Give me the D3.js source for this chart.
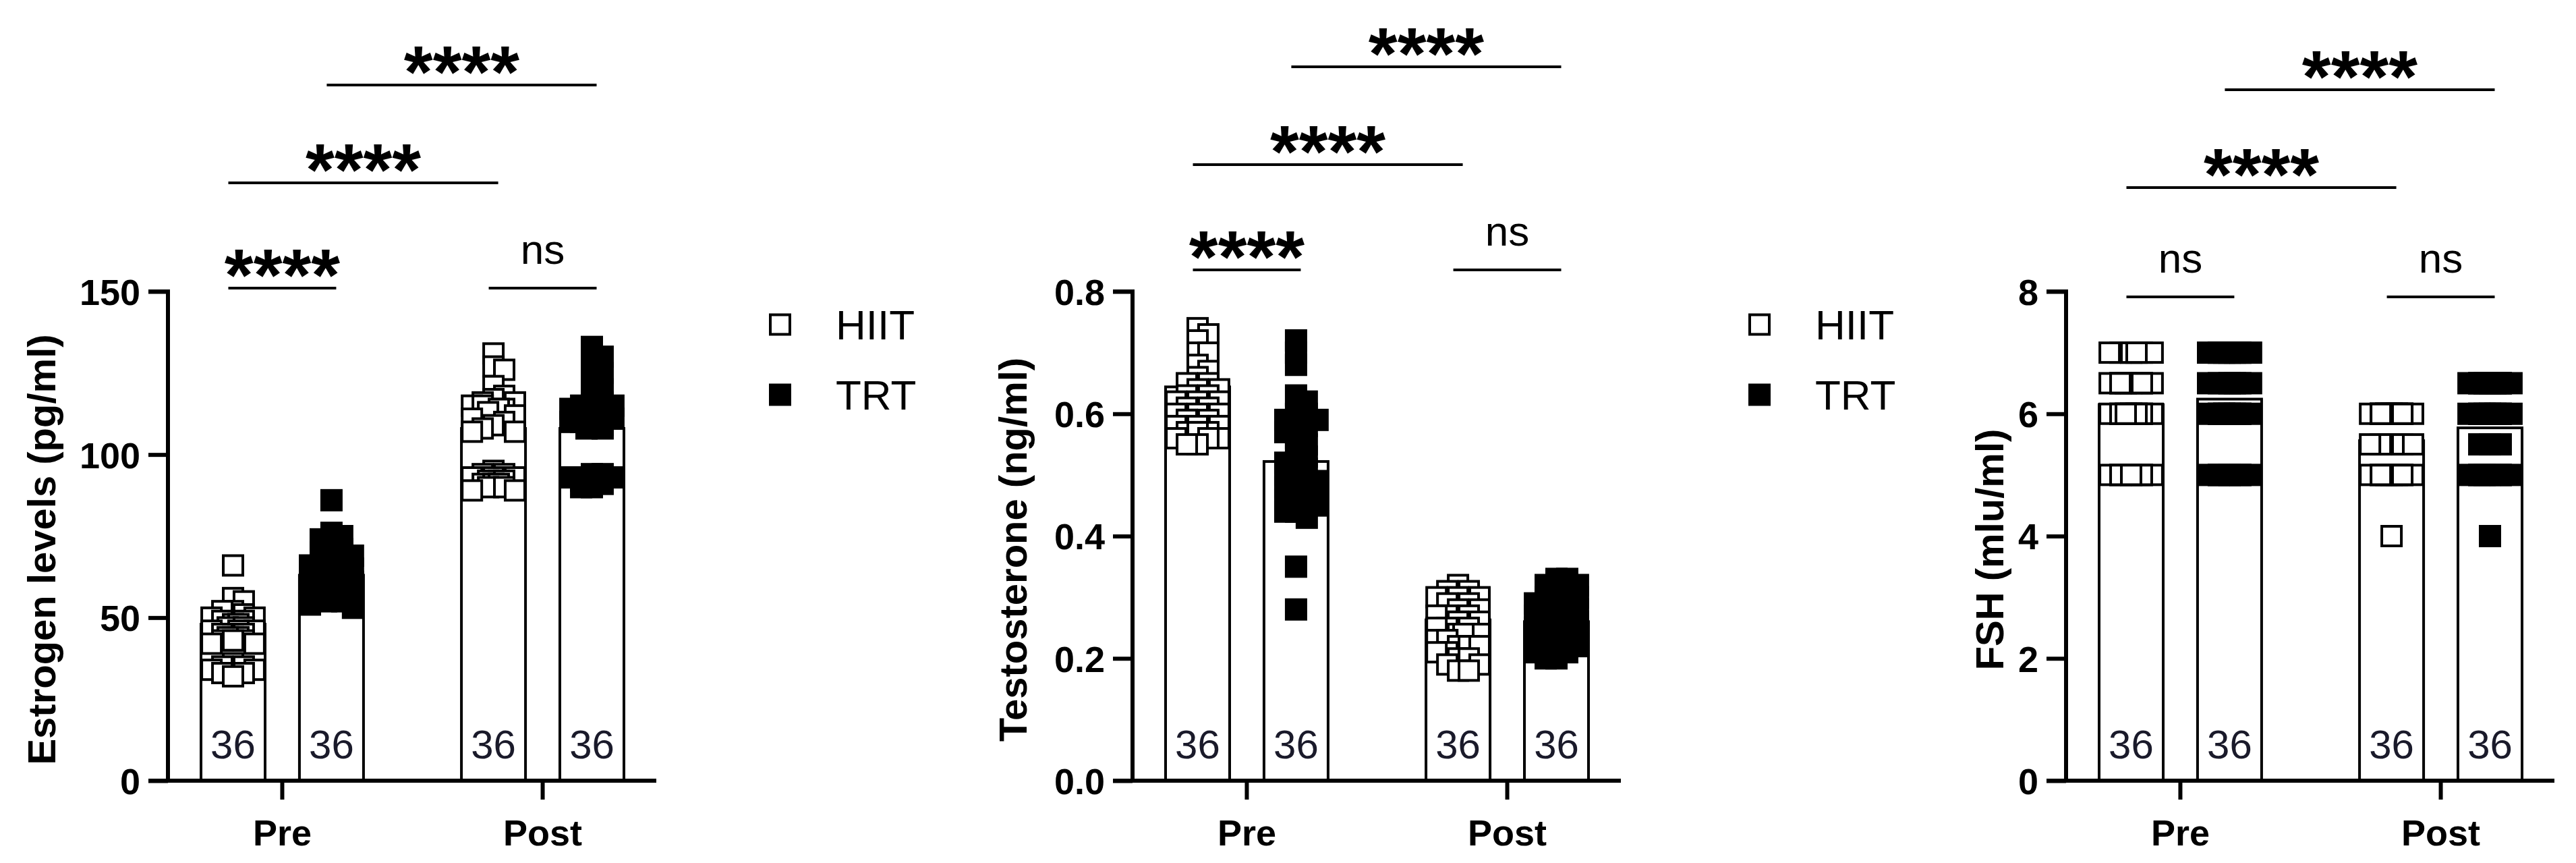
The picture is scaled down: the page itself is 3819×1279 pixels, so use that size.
<!DOCTYPE html>
<html>
<head>
<meta charset="utf-8">
<script src="https://cdn.jsdelivr.net/npm/d3@7"></script>
<style>
  body { margin: 0; background: #fff; }
  text { font-family: "Liberation Sans", Arial, sans-serif; }
</style>
</head>
<body>
<svg id="chart" width="3819" height="1279"></svg>
<script>
// categories and series
var timepoints = ['Pre', 'Post'];
var groups = ['HIIT', 'TRT'];
var groupN = [36, 36, 36, 36];

// Estrogen (pg/ml)
var estrogenMeans = [48, 63, 108, 108];
var estrogenHiitPre = [66,56,55,52,52,51,50,50,49,49,48,48,47,47,46,46,46,45,45,45,44,44,44,43,43,43,42,42,36,35,35,34,34,33,33,32];
var estrogenTrtPre = [86,76,75,74,72,71,70,69,68,67,66,66,65,65,64,64,63,63,62,62,61,61,60,60,59,59,58,58,57,57,56,56,55,55,54,53];
var estrogenHiitPost = [131,127,126,121,118,117,116,116,115,115,114,114,113,112,111,110,109,108,107,107,95,94,94,93,93,93,92,92,92,91,91,91,90,90,89,89];
var estrogenTrtPost = [133,130,127,125,123,120,118,116,115,115,114,114,113,113,112,112,111,111,110,110,109,109,108,108,94,94,93,93,93,92,92,92,91,91,90,90];
var estrogenTicks = [0, 50, 100, 150];

// Testosterone (ng/ml)
var testoMeans = [0.644, 0.522, 0.263, 0.26];
var testoHiitPre = [0.74,0.73,0.72,0.70,0.70,0.68,0.67,0.66,0.65,0.65,0.64,0.64,0.63,0.63,0.62,0.62,0.62,0.61,0.61,0.60,0.60,0.60,0.59,0.59,0.59,0.58,0.58,0.58,0.57,0.57,0.57,0.56,0.56,0.56,0.55,0.55];
var testoTrtPre = [0.72,0.70,0.68,0.63,0.62,0.60,0.60,0.59,0.59,0.58,0.58,0.57,0.56,0.55,0.54,0.53,0.52,0.52,0.51,0.50,0.50,0.49,0.49,0.48,0.48,0.47,0.47,0.46,0.46,0.45,0.45,0.44,0.44,0.43,0.35,0.28];
var testoHiitPost = [0.32,0.31,0.31,0.30,0.30,0.30,0.29,0.29,0.28,0.28,0.27,0.27,0.27,0.26,0.26,0.26,0.25,0.25,0.25,0.24,0.24,0.24,0.23,0.23,0.23,0.22,0.22,0.22,0.21,0.21,0.20,0.20,0.19,0.19,0.18,0.18];
var testoTrtPost = [0.33,0.33,0.32,0.32,0.31,0.31,0.30,0.30,0.29,0.29,0.29,0.28,0.28,0.28,0.27,0.27,0.27,0.26,0.26,0.26,0.25,0.25,0.25,0.24,0.24,0.24,0.23,0.23,0.23,0.22,0.22,0.22,0.21,0.21,0.20,0.20];
var testoTicks = [0, 0.2, 0.4, 0.6, 0.8];

// FSH (mIU/ml)
var fshMeans = [6.15, 6.24, 5.56, 5.77];
var fshHiitPre = [7,7,7,7,7,7,7,6.5,6.5,6.5,6.5,6.5,6.5,6.5,6.5,6,6,6,6,6,6,6,6,6,6,6,6,6,5,5,5,5,5,5,5,5];
var fshTrtPre = [7,7,7,7,7,7,7,7,7,7,6.5,6.5,6.5,6.5,6.5,6.5,6.5,6,6,6,6,6,6,6,6,6,6,6,5,5,5,5,5,5,5,5];
var fshHiitPost = [6,6,6,6,6,6,6,6,6,6,6,6,6,6,6,6,6,6,6,6,5.5,5.5,5.5,5.5,5.5,5,5,5,5,5,5,5,5,5,5,4];
var fshTrtPost = [6.5,6.5,6.5,6.5,6.5,6.5,6.5,6.5,6.5,6.5,6.5,6.5,6.5,6.5,6,6,6,6,6,6,6,6,6,6,5.5,5.5,5.5,5,5,5,5,5,5,5,5,4];
var fshTicks = [0, 2, 4, 6, 8];

// significance labels: [Pre HIIT vs TRT, HIIT Pre vs Post, TRT Pre vs Post, Post HIIT vs TRT]
var estrogenSig = ['****', '****', '****', 'ns'];
var testoSig = ['****', '****', '****', 'ns'];
var fshSig = ['ns', '****', '****', 'ns'];

var panels = [
  {left: 249, title: 'Estrogen levels (pg/ml)', max: 150, ticks: estrogenTicks, fmt: d3.format('d'),
   means: estrogenMeans, points: [estrogenHiitPre, estrogenTrtPre, estrogenHiitPost, estrogenTrtPost],
   sig: estrogenSig, sigY: [427, 271, 126], legend: 1142, titleX: 62},
  {left: 1679, title: 'Testosterone (ng/ml)', max: 0.8, ticks: testoTicks, fmt: d3.format('.1f'),
   means: testoMeans, points: [testoHiitPre, testoTrtPre, testoHiitPost, testoTrtPost],
   sig: testoSig, sigY: [400, 244, 99], legend: 2594, titleX: 1502},
  {left: 3063, title: 'FSH (mlu/ml)', max: 8, ticks: fshTicks, fmt: d3.format('d'),
   means: fshMeans, points: [fshHiitPre, fshTrtPre, fshHiitPost, fshTrtPost],
   sig: fshSig, sigY: [440, 278, 133], legend: null, titleX: 2950}
];

var svg = d3.select('#chart');
var y0 = 1157, yTop = 432, axisLen = 724;
var mark = 29;

panels.forEach(function(p) {
  var g = svg.append('g');
  var y = d3.scaleLinear().domain([0, p.max]).range([y0, yTop]);
  var xT = d3.scaleBand().domain(timepoints).range([p.left + 49, p.left + 676])
    .paddingInner(0.376).paddingOuter(0);
  var xG = d3.scaleBand().domain(groups).range([0, xT.bandwidth()]).paddingInner(0.349).paddingOuter(0);

  var bars = [];
  timepoints.forEach(function(t, ti) {
    groups.forEach(function(gr, gi) {
      var i = ti * 2 + gi;
      bars.push({x: xT(t) + xG(gr), w: xG.bandwidth(), mean: p.means[i], pts: p.points[i], filled: gi === 1, n: groupN[i]});
    });
  });

  // bars
  g.selectAll('rect.bar').data(bars).enter().append('rect')
    .attr('x', function(d) { return d.x; })
    .attr('y', function(d) { return y(d.mean); })
    .attr('width', function(d) { return d.w; })
    .attr('height', function(d) { return y0 - y(d.mean); })
    .attr('fill', '#fff').attr('stroke', '#000').attr('stroke-width', 4);

  // points, spread sideways when they overlap
  bars.forEach(function(b) {
    var cx = b.x + b.w / 2, placed = [];
    var step = mark * 0.55;
    var pts = b.pts.slice().sort(d3.descending).map(function(v) {
      var py = y(v), offs = [0, step, -step, 2 * step, -2 * step];
      var ox = offs.find(function(o) {
        return placed.every(function(q) { return Math.abs(q.x - o) >= step * 0.9 || Math.abs(q.y - py) >= mark * 0.6; });
      });
      if (ox === undefined) ox = offs[placed.length % offs.length] * 0.5;
      var r = {x: ox, y: py};
      placed.push(r);
      return r;
    });
    g.selectAll(null).data(pts).enter().append('rect')
      .attr('x', function(d) { return cx + d.x - mark / 2; })
      .attr('y', function(d) { return d.y - mark / 2; })
      .attr('width', mark).attr('height', mark)
      .attr('fill', b.filled ? '#000' : '#fff')
      .attr('stroke', '#000').attr('stroke-width', 4);
  });

  // n labels
  g.selectAll('text.n').data(bars).enter().append('text')
    .attr('x', function(d) { return d.x + d.w / 2; }).attr('y', 1124)
    .attr('text-anchor', 'middle').attr('font-size', 60).attr('fill', '#1a1a2a')
    .text(function(d) { return d.n; });

  // axes
  var ya = g.append('g').attr('transform', 'translate(' + p.left + ',0)')
    .call(d3.axisLeft(y).tickValues(p.ticks).tickFormat(p.fmt).tickSize(29).tickPadding(12));
  var xa = g.append('g').attr('transform', 'translate(0,' + y0 + ')')
    .call(d3.axisBottom(xT).tickSize(28).tickPadding(30));
  [ya, xa].forEach(function(a) {
    a.select('.domain').attr('stroke-width', 6);
    a.selectAll('.tick line').attr('stroke-width', 6);
    a.selectAll('text').attr('font-size', 54).attr('font-weight', 'bold').attr('fill', '#000')
      .style('font-family', '"Liberation Sans", Arial, sans-serif');
  });
  ya.select('.domain').attr('d', 'M' + (-29) + ',' + yTop + 'H0V' + y0 + 'H-29');
  xa.select('.domain').attr('d', 'M' + (p.left - 29) + ',0H' + (p.left + axisLen));
  ya.selectAll('text').attr('dy', '0.36em');
  xa.selectAll('text').attr('dy', '0.71em');

  // y title
  g.append('text')
    .attr('transform', 'translate(' + (p.titleX + 20) + ',' + ((yTop + y0) / 2 + 20) + ') rotate(-90)')
    .attr('text-anchor', 'middle').attr('font-size', 58).attr('font-weight', 'bold')
    .text(p.title);

  // significance brackets
  var c = bars.map(function(b) { return b.x + b.w / 2; });
  var spans = [
    {a: c[0], b: c[1], yy: p.sigY[0], s: p.sig[0]},
    {a: c[0], b: c[2], yy: p.sigY[1], s: p.sig[1]},
    {a: c[1], b: c[3], yy: p.sigY[2], s: p.sig[2]},
    {a: c[2], b: c[3], yy: p.sigY[0], s: p.sig[3]}
  ];
  spans.forEach(function(s) {
    g.append('line').attr('x1', s.a - 7).attr('x2', s.b + 7).attr('y1', s.yy).attr('y2', s.yy)
      .attr('stroke', '#000').attr('stroke-width', 4);
    var t = g.append('text').attr('x', (s.a + s.b) / 2).attr('text-anchor', 'middle').text(s.s);
    if (s.s === 'ns') {
      t.attr('y', s.yy - 36).attr('font-size', 62);
    } else {
      t.attr('y', s.yy + 18).attr('font-size', 110).attr('font-weight', 'bold');
    }
  });

  // legend
  if (p.legend !== null) {
    var lg = g.append('g');
    groups.forEach(function(gr, gi) {
      var ly = 481 + gi * 104;
      lg.append('rect').attr('x', p.legend).attr('y', ly - mark / 2).attr('width', mark).attr('height', mark)
        .attr('fill', gi === 1 ? '#000' : '#fff').attr('stroke', '#000').attr('stroke-width', 4);
      lg.append('text').attr('x', p.legend + 97).attr('y', ly + 22).attr('font-size', 62).text(gr);
    });
  }
});
</script>
</body>
</html>
